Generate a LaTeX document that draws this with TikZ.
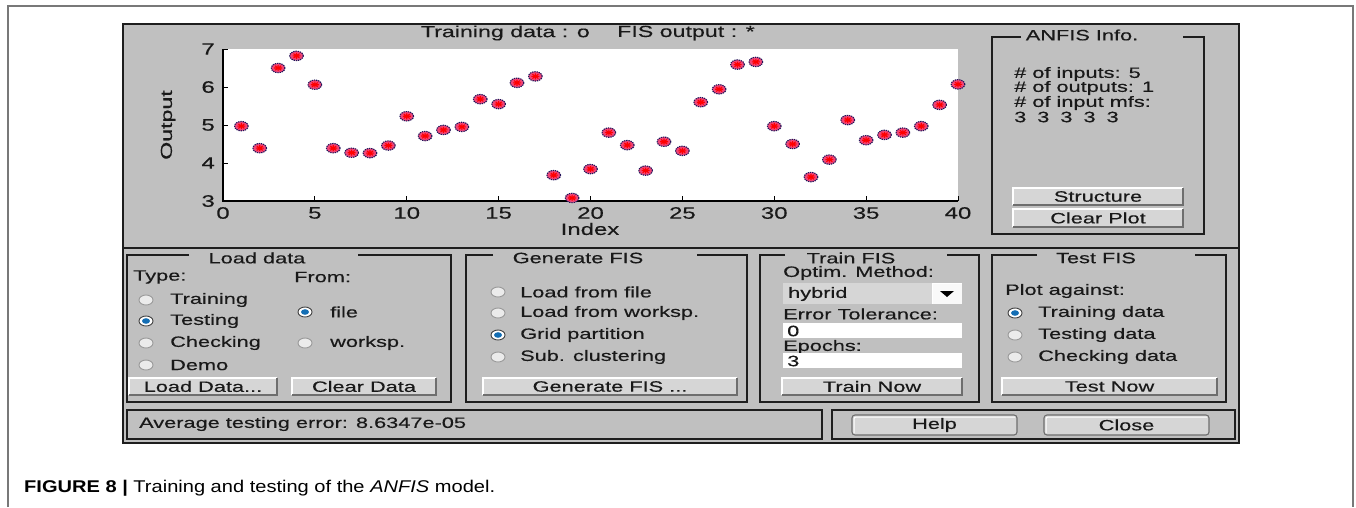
\documentclass[tikz,border=0pt]{standalone}
\usepackage{fontspec}
\setmainfont{Liberation Sans}
\newfontfamily\guifont[FakeStretch=1.45,FakeBold=0.35]{Liberation Sans}
\newfontfamily\capfont[FakeStretch=1.18]{Liberation Sans}

\definecolor{winbg}{RGB}{192,192,192}
\definecolor{btnface}{RGB}{214,214,214}
\definecolor{btnedge}{RGB}{110,110,110}
\definecolor{framecol}{RGB}{30,30,30}
\definecolor{guitext}{RGB}{25,25,25}
\definecolor{radioblue}{RGB}{20,110,180}
\definecolor{markfill}{RGB}{240,70,120}
\definecolor{markring}{RGB}{30,20,90}
\definecolor{outerframe}{RGB}{120,120,120}

\tikzset{
  gui/.style={font=\guifont\fontsize{15}{15}\selectfont, text=guitext, inner sep=0pt},
  guiw/.style={gui, anchor=west},
  ticklab/.style={font=\guifont\fontsize{16.5}{16.5}\selectfont, text=guitext, inner sep=0pt},
  framed/.style={draw=framecol, line width=1.4pt},
  datamark/.pic={
    \fill[markfill] (0,0) ellipse [x radius=6.8pt, y radius=4.7pt];
    \draw[markring, line width=1.1pt, dash pattern=on 1.3pt off 0.9pt] (0,0) ellipse [x radius=6.8pt, y radius=4.7pt];
    \draw[red, line width=1.1pt] (-4pt,0) -- (4pt,0) (0,-3pt) -- (0,3pt)
      (-3pt,-2.2pt) -- (3pt,2.2pt) (-3pt,2.2pt) -- (3pt,-2.2pt);
  }
}

% push button: name, x1, y1, x2, y2, label
\newcommand\guibtn[6]{%
  \fill[btnface] (#2,#3) rectangle (#4,#5);
  \draw[white, line width=1.3pt] (#2,#5) -- (#2,#3) -- (#4,#3);
  \draw[btnedge, line width=1.3pt] (#4,#3) -- (#4,#5) -- (#2,#5);
  \node[gui] (#1) at ({(#2+#4)/2},{(#3+#5)/2}) {#6};
}
% rounded push button of the status bar
\newcommand\guirbtn[6]{%
  \draw[btnedge, fill=btnface, line width=1.1pt, rounded corners=3pt] (#2,#3) rectangle (#4,#5);
  \draw[white, line width=1pt, rounded corners=2pt] (#2+2,#5-2) -- (#2+2,#3+2) -- (#4-2,#3+2);
  \node[gui] (#1) at ({(#2+#4)/2},{(#3+#5)/2}) {#6};
}
% radio button: x, y, selected (1/0)
\newcommand\guiradio[3]{%
  \ifnum#3=1
    \draw[black!75, fill=white, line width=0.9pt] (#1,#2) ellipse [x radius=7pt, y radius=5pt];
    \fill[radioblue] (#1,#2) ellipse [x radius=4pt, y radius=2.8pt];
  \else
    \draw[black!40, fill=black!8, line width=0.9pt] (#1,#2) ellipse [x radius=7pt, y radius=5pt];
  \fi
}
% group frame: x1, y1, x2, y2, gap left, gap right
\newcommand\guiframe[6]{%
  \draw[framed] (#5,#2) -- (#1,#2) -- (#1,#4) -- (#3,#4) -- (#3,#2) -- (#6,#2);
}

\begin{document}
\begin{tikzpicture}[x=1pt,y=-1pt]
\useasboundingbox (0,0) rectangle (1356,507);

% page frame
\draw[outerframe, line width=1.3pt] (8,507) -- (8,6) -- (1353,6) -- (1353,507);

% window
\fill[winbg] (123,24) rectangle (1239,443);
\draw[framecol, line width=1.6pt] (123,24) rectangle (1239,443);
\draw[framecol, line width=1.6pt] (123,248) -- (1239,248);

% ---------- plot ----------
\fill[white] (223,49) rectangle (958,201);
\node[gui, anchor=east, font=\guifont\fontsize{16}{16}\selectfont] (ttl1) at (590,33) {Training data : o};
\node[gui, anchor=west, font=\guifont\fontsize{16}{16}\selectfont] (ttl2) at (617,33) {FIS output : *};

\foreach \t in {0,5,...,40} {
  \draw[black, line width=1pt] ({223+18.375*\t},201) -- ++(0,-5);
  \node[ticklab] (xt\t) at ({223+18.375*\t},213) {\t};
}
\foreach \t in {3,...,7} {
  \draw[black, line width=1pt] (223,{201-38*(\t-3)}) -- ++(5,0);
  \node[ticklab, anchor=east] (yt\t) at (215,{201-38*(\t-3)}) {\t};
}
\draw[black, line width=1.4pt] (223,49) -- (223,201) -- (958,201);
\node[gui, rotate=90, font=\guifont\fontsize{16}{16}\selectfont] (ylab) at (168,125) {Output};
\node[gui, font=\guifont\fontsize{16.5}{16.5}\selectfont] (xlab) at (590,229) {Index};

\foreach \i/\v in {1/4.97, 2/4.39, 3/6.50, 4/6.82, 5/6.06, 6/4.39, 7/4.27, 8/4.26,
  9/4.46, 10/5.23, 11/4.71, 12/4.87, 13/4.95, 14/5.68, 15/5.55, 16/6.11, 17/6.28,
  18/3.68, 19/3.08, 20/3.84, 21/4.80, 22/4.47, 23/3.80, 24/4.56, 25/4.32, 26/5.60,
  27/5.94, 28/6.59, 29/6.66, 30/4.97, 31/4.50, 32/3.63, 33/4.09, 34/5.13, 35/4.60,
  36/4.74, 37/4.80, 38/4.97, 39/5.53, 40/6.07}
  \pic at ({223+18.375*\i},{201-38*(\v-3)}) {datamark};

% ---------- ANFIS info ----------
\guiframe{992}{37}{1204}{234}{1021}{1183}
\node[gui] (infottl) at (1082,35) {ANFIS Info.};
\node[guiw] (info1) at (1014,74) {\# of inputs: 5};
\node[guiw] (info2) at (1014,88) {\# of outputs: 1};
\node[guiw] (info3) at (1014,103) {\# of input mfs:};
\node[guiw] (info4) at (1014,117) {3\hspace{11pt}3\hspace{11pt}3\hspace{11pt}3\hspace{11pt}3};
\guibtn{structbtn}{1013}{188}{1183}{205}{Structure}
\guibtn{clrplotbtn}{1013}{209}{1183}{227}{Clear Plot}

% ---------- Load data ----------
\guiframe{127}{255}{451}{402}{189}{358}
\node[gui] (loadttl) at (257,258) {Load data};
\node[guiw] (typelab) at (133,277) {Type:};
\node[guiw] (fromlab) at (294,277) {From:};
\guiradio{146}{300}{0} \node[guiw] (rtrain) at (170,300) {Training};
\guiradio{146}{321}{1} \node[guiw] (rtest) at (170,321) {Testing};
\guiradio{146}{343}{0} \node[guiw] (rcheck) at (170,343) {Checking};
\guiradio{146}{365}{0} \node[guiw] (rdemo) at (170,365) {Demo};
\guiradio{305}{312}{1} \node[guiw] (rfile) at (330,312) {file};
\guiradio{305}{343}{0} \node[guiw] (rwork) at (330,343) {worksp.};
\guibtn{loadbtn}{129}{378}{277}{395}{Load Data...}
\guibtn{clrdatabtn}{292}{378}{436}{395}{Clear Data}

% ---------- Generate FIS ----------
\guiframe{466}{255}{747}{402}{493}{697}
\node[gui] (genttl) at (578,258) {Generate FIS};
\guiradio{498}{292}{0} \node[guiw] (gfile) at (520,292) {Load from file};
\guiradio{498}{313}{0} \node[guiw] (gwork) at (520,313) {Load from worksp.};
\guiradio{498}{335}{1} \node[guiw] (ggrid) at (520,335) {Grid partition};
\guiradio{498}{357}{0} \node[guiw] (gsub) at (520,357) {Sub. clustering};
\guibtn{genbtn}{483}{378}{737}{395}{Generate FIS ...}

% ---------- Train FIS ----------
\guiframe{760}{255}{979}{402}{785}{947}
\node[gui] (trainttl) at (851,258) {Train FIS};
\node[guiw] (optlab) at (783,273) {Optim. Method:};
\fill[btnface] (783,283) rectangle (962,304);
\fill[white!85!btnface] (932,283) rectangle (962,304);
\draw[white, line width=1pt] (932,304) -- (932,283) -- (962,283);
\fill[black] (940,291) -- (954,291) -- (947,297) -- cycle;
\node[guiw] (hybrid) at (788,294) {hybrid};
\node[guiw] (tollab) at (783,314) {Error Tolerance:};
\fill[white] (783,323) rectangle (962,338);
\node[guiw] (tolval) at (787,331) {0};
\node[guiw] (eplab) at (783,347) {Epochs:};
\fill[white] (783,353) rectangle (962,368);
\node[guiw] (epval) at (787,361) {3};
\guibtn{trainbtn}{782}{378}{962}{395}{Train Now}

% ---------- Test FIS ----------
\guiframe{992}{255}{1226}{402}{1037}{1195}
\node[gui] (testttl) at (1096,258) {Test FIS};
\node[guiw] (plotlab) at (1005,291) {Plot against:};
\guiradio{1015}{313}{1} \node[guiw] (ttrain) at (1038,313) {Training data};
\guiradio{1015}{335}{0} \node[guiw] (ttest) at (1038,335) {Testing data};
\guiradio{1015}{357}{0} \node[guiw] (tcheck) at (1038,357) {Checking data};
\guibtn{testbtn}{1002}{378}{1217}{395}{Test Now}

% ---------- status bar ----------
\draw[framed] (127,410) rectangle (822,439);
\node[guiw] (status) at (139,424) {Average testing error: 8.6347e-05};
\draw[framed] (832,410) rectangle (1235,439);
\guirbtn{helpbtn}{852}{415}{1017}{435}{Help}
\guirbtn{closebtn}{1044}{415}{1209}{435}{Close}

% ---------- caption ----------
\node[anchor=west, inner sep=0pt, font=\capfont\fontsize{17}{17}\selectfont] (caption) at (24,488)
  {\textbf{FIGURE 8 |} Training and testing of the \textit{ANFIS} model.};
\end{tikzpicture}
\end{document}
